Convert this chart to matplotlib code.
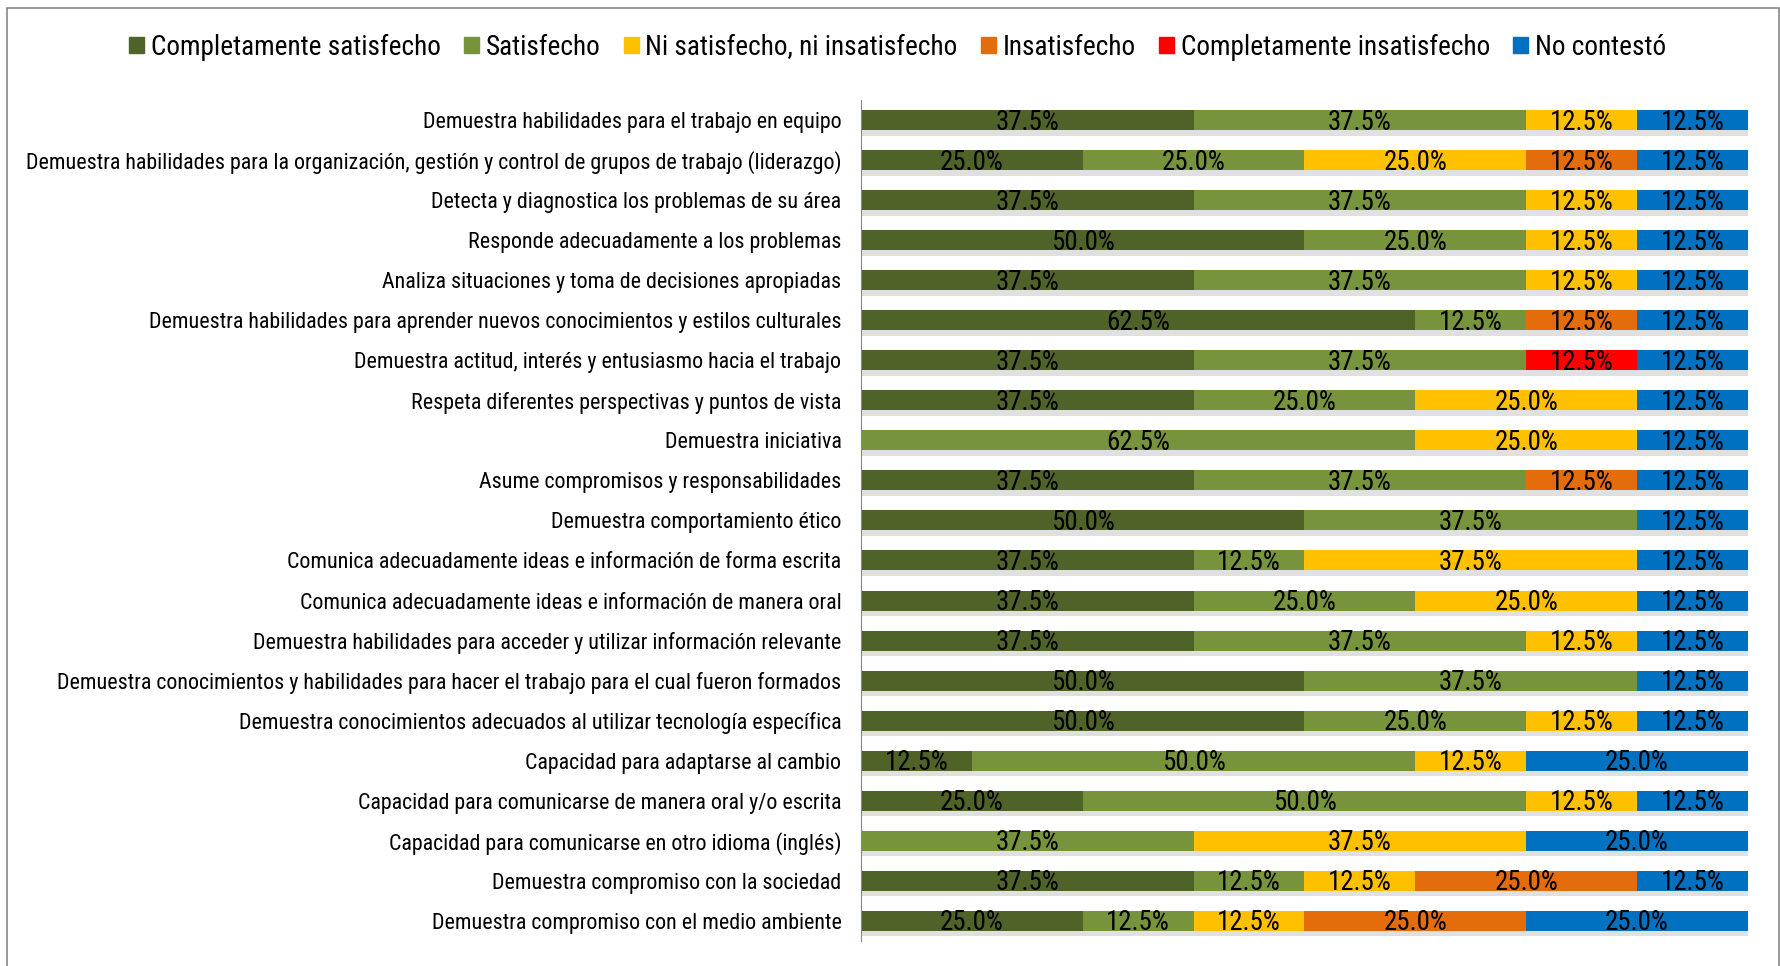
import numpy as np
import matplotlib.pyplot as plt
import matplotlib.patheffects as pe
from matplotlib import font_manager
from matplotlib.patches import Rectangle

have = {f.name for f in font_manager.fontManager.ttflist}
prefs = ['Liberation Sans Narrow', 'Roboto Condensed', 'Open Sans Condensed', 'Lato', 'Roboto']
font = next(f for f in prefs + ['DejaVu Sans'] if f in have)
plt.rcParams['font.family'] = [font, 'DejaVu Sans']

#######################################
# Data
#######################################
categories = [
    "Demuestra habilidades para el trabajo en equipo",
    "Demuestra habilidades para la organización, gestión y control de grupos de trabajo (liderazgo)",
    "Detecta y diagnostica los problemas de su área",
    "Responde adecuadamente a los problemas",
    "Analiza situaciones y toma de decisiones apropiadas",
    "Demuestra habilidades para aprender nuevos conocimientos y estilos culturales",
    "Demuestra actitud, interés y entusiasmo hacia el trabajo",
    "Respeta diferentes perspectivas y puntos de vista",
    "Demuestra iniciativa",
    "Asume compromisos y responsabilidades",
    "Demuestra comportamiento ético",
    "Comunica adecuadamente ideas e información de forma escrita",
    "Comunica adecuadamente ideas e información de manera oral",
    "Demuestra habilidades para acceder y utilizar información relevante",
    "Demuestra conocimientos y habilidades para hacer el trabajo para el cual fueron formados",
    "Demuestra conocimientos adecuados al utilizar tecnología específica",
    "Capacidad para adaptarse al cambio",
    "Capacidad para comunicarse de manera oral y/o escrita",
    "Capacidad para comunicarse en otro idioma (inglés)",
    "Demuestra compromiso con la sociedad",
    "Demuestra compromiso con el medio ambiente",
]

series_names = ["Completamente satisfecho", "Satisfecho", "Ni satisfecho, ni insatisfecho",
                "Insatisfecho", "Completamente insatisfecho", "No contestó"]

comp_sat = [37.5, 25.0, 37.5, 50.0, 37.5, 62.5, 37.5, 37.5, 0.0, 37.5, 50.0,
            37.5, 37.5, 37.5, 50.0, 50.0, 12.5, 25.0, 0.0, 37.5, 25.0]
sat = [37.5, 25.0, 37.5, 25.0, 37.5, 12.5, 37.5, 25.0, 62.5, 37.5, 37.5,
       12.5, 25.0, 37.5, 37.5, 25.0, 50.0, 50.0, 37.5, 12.5, 12.5]
ni_ni = [12.5, 25.0, 12.5, 12.5, 12.5, 0.0, 0.0, 25.0, 25.0, 0.0, 0.0,
         37.5, 25.0, 12.5, 0.0, 12.5, 12.5, 12.5, 37.5, 12.5, 12.5]
insat = [0.0, 12.5, 0.0, 0.0, 0.0, 12.5, 0.0, 0.0, 0.0, 12.5, 0.0,
         0.0, 0.0, 0.0, 0.0, 0.0, 0.0, 0.0, 0.0, 25.0, 25.0]
comp_insat = [0.0, 0.0, 0.0, 0.0, 0.0, 0.0, 12.5, 0.0, 0.0, 0.0, 0.0,
              0.0, 0.0, 0.0, 0.0, 0.0, 0.0, 0.0, 0.0, 0.0, 0.0]
no_contesto = [12.5, 12.5, 12.5, 12.5, 12.5, 12.5, 12.5, 12.5, 12.5, 12.5, 12.5,
               12.5, 12.5, 12.5, 12.5, 12.5, 25.0, 12.5, 25.0, 12.5, 25.0]

colors = ['#4F6228', '#77933C', '#FFC000', '#E46C0A', '#FF0000', '#0070C0']

#######################################
# Plot
#######################################
fig = plt.figure(figsize=(17.81, 9.66), dpi=100)
renderer = fig.canvas.get_renderer()

def size_for(txt, target_px):
    # font size so that txt is about target_px wide
    t = fig.text(0, 0, txt, fontsize=10)
    w = t.get_window_extent(renderer).width
    t.remove()
    return 10 * target_px / w

label_fs = size_for(categories[1], 812)
legend_fs = size_for(series_names[0], 288)
value_fs = size_for("37.5%", 64)

ax = fig.add_axes([0.4834, 0.026, 0.4981, 0.8705])

data = [comp_sat, sat, ni_ni, insat, comp_insat, no_contesto]
y = np.arange(len(categories))
left = np.zeros(len(categories))
shadow = [pe.SimplePatchShadow(offset=(1, -4), shadow_rgbFace='#9a9a9a', alpha=0.3), pe.Normal()]

handles = []
for vals, name, c in zip(data, series_names, colors):
    vals = np.array(vals)
    bars = ax.barh(y, vals, left=left, height=0.5, color=c)
    for b in bars:
        b.set_path_effects(shadow)
    handles.append(Rectangle((0, 0), 1, 1, color=c, label=name))
    for yi, (l, v) in enumerate(zip(left, vals)):
        if v > 0:
            ax.text(l + v / 2, yi + 0.05, f"{v:.1f}%", ha='center', va='center',
                    fontsize=value_fs, color='black')
    left += vals

ax.set_xlim(0, 100)
ax.set_ylim(len(categories) - 0.5, -0.5)
ax.set_yticks(y)
ax.set_yticklabels(categories, fontsize=label_fs)
ax.tick_params(axis='y', length=0, pad=14)
ax.set_xticks([])
for s in ['top', 'right', 'bottom']:
    ax.spines[s].set_visible(False)
ax.spines['left'].set_color('#868686')

fig.legend(handles=handles, loc='center', bbox_to_anchor=(0.504, 0.951), ncol=6,
           frameon=False, fontsize=legend_fs, handlelength=0.55, handleheight=0.55,
           handletextpad=0.25, columnspacing=0.85)

fig.patches.append(Rectangle((7 / 1781, -0.01), 1772 / 1781, 1 - 8 / 966 + 0.01,
                             transform=fig.transFigure, fill=False,
                             edgecolor='#868686', linewidth=1.2))

fig.savefig('out.png', dpi=100)
